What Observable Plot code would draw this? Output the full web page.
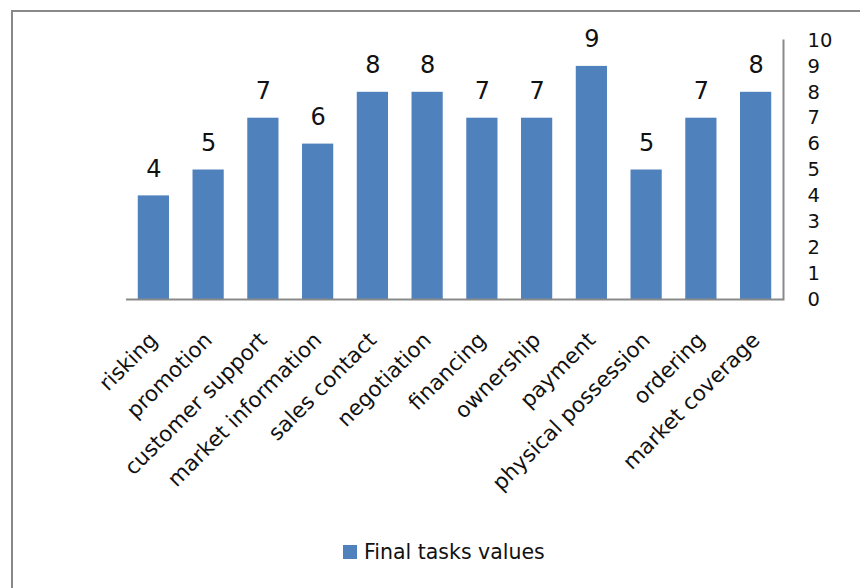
<!DOCTYPE html>
<html>
<head>
<meta charset="utf-8">
<script src="https://cdn.jsdelivr.net/npm/d3@7"></script>
<script src="https://cdn.jsdelivr.net/npm/@observablehq/plot@0.6"></script>
<style>
  html, body { margin: 0; padding: 0; background: #fff; }
  #wrap { position: relative; width: 860px; height: 588px; overflow: hidden; font-family: "DejaVu Sans", sans-serif; }
  #box { position: absolute; left: 11px; top: 10px; width: 900px; height: 700px; border-left: 2px solid #898989; border-top: 2px solid #898989; }
  #chart { position: absolute; left: 0; top: 0; }
  #legend { position: absolute; left: 343px; top: 538px; height: 28px; display: flex; align-items: center; font-size: 20.5px; color: #111; white-space: nowrap; }
  #legend .sw { width: 14px; height: 14px; background: #4f81bd; margin-right: 7px; flex: none; }
</style>
</head>
<body>
<div id="wrap">
  <div id="box"></div>
  <div id="chart"></div>
  <div id="legend"><span class="sw"></span><span id="legendText"></span></div>
</div>
<script>
const categories = ["risking", "promotion", "customer support", "market information", "sales contact", "negotiation", "financing", "ownership", "payment", "physical possession", "ordering", "market coverage"];
const values = [4, 5, 7, 6, 8, 8, 7, 7, 9, 5, 7, 8];
const yTicks = [0, 1, 2, 3, 4, 5, 6, 7, 8, 9, 10];
const seriesName = "Final tasks values";

const data = categories.map((c, i) => ({category: c, value: values[i]}));

const plot = Plot.plot({
  width: 860,
  height: 588,
  marginLeft: 126,
  marginRight: 77,
  marginTop: 40,
  marginBottom: 289,
  style: {fontFamily: "'DejaVu Sans', sans-serif", background: "transparent", color: "#111"},
  x: {domain: categories, paddingInner: 0.43, paddingOuter: 0.215, round: false, label: null},
  y: {domain: [0, 10], label: null},
  marks: [
    Plot.barY(data, {x: "category", y: "value", fill: "#4f81bd"}),
    Plot.ruleY([0], {stroke: "#898989", strokeWidth: 2}),
    Plot.frame({anchor: "right", stroke: "#898989", strokeWidth: 2}),
    Plot.text(data, {x: "category", y: "value", text: d => String(d.value), dy: -27, fontSize: 24, fill: "#111"}),
    Plot.axisY({anchor: "right", ticks: yTicks, tickSize: 0, tickPadding: 24, fontSize: 19.5, tickFormat: d => String(d), label: null}),
    Plot.axisX({anchor: "bottom", tickSize: 0, tickRotate: -45, tickPadding: 37, fontSize: 21.5, label: null})
  ]
});
document.getElementById("chart").appendChild(plot);
document.getElementById("legendText").textContent = seriesName;
</script>
</body>
</html>
